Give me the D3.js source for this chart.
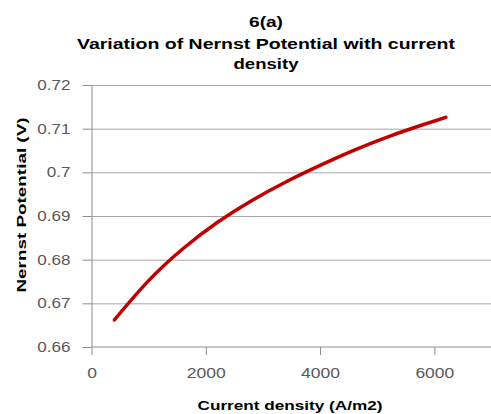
<!DOCTYPE html>
<html>
<head>
<meta charset="utf-8">
<script src="https://cdn.jsdelivr.net/npm/d3@7"></script>
<style>
  body { margin: 0; background: #fff; }
  svg { display: block; }
  .grid line { stroke: #a6a6a6; stroke-width: 1; }
  .grid path { display: none; }
  .axis path, .axis line { stroke: #8c8c8c; }
  .axis text { fill: #595959; font-family: "Liberation Sans", Arial, sans-serif; font-size: 14px; }
</style>
</head>
<body>
<script>
// current density (A/m2) vs Nernst potential (V)
var density = [400, 1000, 1600, 2200, 2800, 3400, 4000, 4600, 5200, 5800, 6200];
var nernst = [0.6662, 0.6752, 0.6825, 0.6885, 0.6935, 0.6978, 0.7016, 0.7051, 0.7082, 0.7109, 0.7126];

var xTicks = [0, 2000, 4000, 6000];
var yTicks = [0.66, 0.67, 0.68, 0.69, 0.70, 0.71, 0.72];
var titleLines = ["6(a)", "Variation of Nernst Potential with current", "density"];

var data = density.map(function(d, i) { return {x: d, y: nernst[i]}; });

var width = 491, height = 414;
var plot = {left: 91.5, right: 491.5, top: 85, bottom: 347};

var svg = d3.select("body").append("svg")
    .attr("width", width)
    .attr("height", height);

var x = d3.scaleLinear().domain([0, 7000]).range([plot.left, plot.right]);
var y = d3.scaleLinear().domain([0.66, 0.72]).range([plot.bottom, plot.top]);

// stretch text horizontally (the reference is a bit wide)
function stretch(sel, k) {
    sel.each(function() {
        var w = this.getComputedTextLength();
        d3.select(this).attr("textLength", w * k).attr("lengthAdjust", "spacingAndGlyphs");
    });
}
function fitTo(sel, w) {
    sel.attr("textLength", w).attr("lengthAdjust", "spacingAndGlyphs");
}

// horizontal gridlines
svg.append("g")
    .attr("class", "grid")
    .attr("transform", "translate(" + plot.left + ",0)")
    .call(d3.axisRight(y).tickValues(yTicks.slice(1)).tickSize(plot.right - plot.left).tickFormat(""));

// y axis
var yAxis = svg.append("g")
    .attr("class", "axis")
    .attr("transform", "translate(" + plot.left + ",0)")
    .call(d3.axisLeft(y).tickValues(yTicks).tickSize(9).tickSizeOuter(0).tickPadding(12)
        .tickFormat(function(d) { return d3.format("")(+d.toFixed(2)); }));
yAxis.selectAll("text").call(stretch, 1.22);

// x axis
var xAxis = svg.append("g")
    .attr("class", "axis")
    .attr("transform", "translate(0," + plot.bottom + ")")
    .call(d3.axisBottom(x).tickValues(xTicks).tickSize(8).tickSizeOuter(0).tickPadding(13)
        .tickFormat(d3.format("d")));
xAxis.select("path").attr("d", "M" + plot.left + ",0H" + plot.right);
xAxis.selectAll("text").call(stretch, 1.25);

// the line
var line = d3.line()
    .curve(d3.curveNatural)
    .x(function(d) { return x(d.x); })
    .y(function(d) { return y(d.y); });

svg.append("path")
    .datum(data)
    .attr("fill", "none")
    .attr("stroke", "#c00000")
    .attr("stroke-width", 3.5)
    .attr("stroke-linecap", "round")
    .attr("d", line);

// title
var titleY = [27, 49, 69];
var titleW = [34, 378, 65];
titleLines.forEach(function(t, i) {
    svg.append("text")
        .attr("x", 266)
        .attr("y", titleY[i])
        .attr("text-anchor", "middle")
        .style("font-family", "'Liberation Sans', Arial, sans-serif")
        .style("font-weight", "bold")
        .style("font-size", "15px")
        .style("fill", "#000")
        .text(t)
        .call(fitTo, titleW[i]);
});

// x axis label
svg.append("text")
    .attr("x", 290)
    .attr("y", 410)
    .attr("text-anchor", "middle")
    .style("font-family", "'Liberation Sans', Arial, sans-serif")
    .style("font-weight", "bold")
    .style("font-size", "13px")
    .text("Current density (A/m2)")
    .call(fitTo, 185);

// y axis label
svg.append("text")
    .attr("transform", "translate(26,205) rotate(-90)")
    .attr("text-anchor", "middle")
    .style("font-family", "'Liberation Sans', Arial, sans-serif")
    .style("font-weight", "bold")
    .style("font-size", "13px")
    .text("Nernst Potential (V)")
    .call(fitTo, 175);
</script>
</body>
</html>
